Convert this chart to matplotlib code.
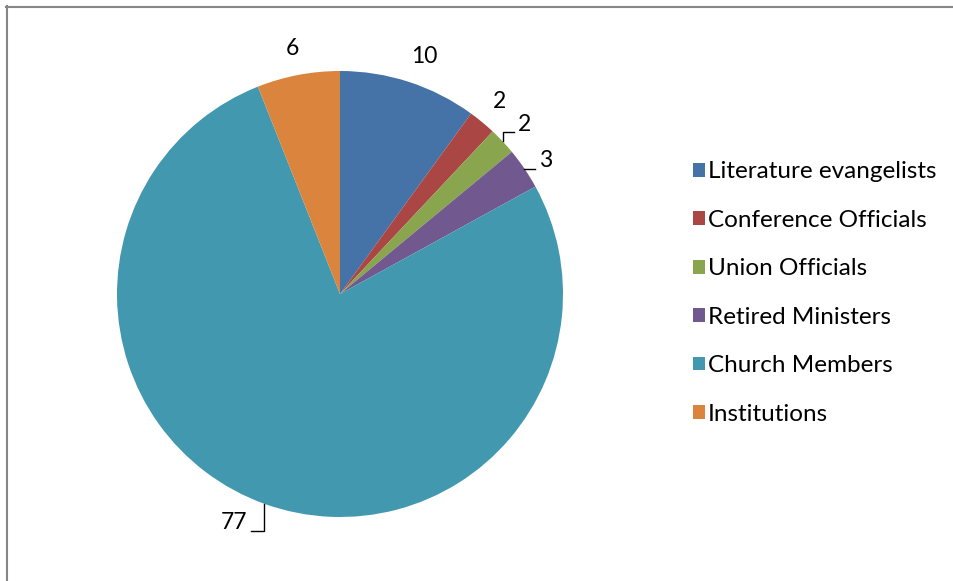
import numpy as np
import matplotlib
matplotlib.use("Agg")
import matplotlib.pyplot as plt
from matplotlib.lines import Line2D
from matplotlib.patches import Patch

plt.rcParams["font.family"] = ["Lato", "DejaVu Sans"]

categories = ["Literature evangelists", "Conference Officials", "Union Officials",
              "Retired Ministers", "Church Members", "Institutions"]
values = [10, 2, 2, 3, 77, 6]
colors = ["#4572A7", "#AA4643", "#89A54E", "#71588F", "#4198AF", "#DB843D"]

# how far out each number sits, and which ones get an elbow leader
label_dist = [1.13, 1.12, 1.125, 1.10, 1.13, 1.12]
label_shift = [-1.5, 0.0, -0.6, -1.3, -5.0, 0.2]   # degrees
leader = [False, False, True, True, True, False]

W, H = 954, 581
fig = plt.figure(figsize=(W / 100, H / 100), dpi=100)

cx, cy, r = 340, 294, 223
ax = fig.add_axes([(cx - r) / W, (H - cy - r) / H, 2 * r / W, 2 * r / H])

wedges, _ = ax.pie(values, colors=colors, startangle=90, counterclock=False,
                   radius=1, wedgeprops=dict(linewidth=0))
ax.set_xlim(-1, 1)
ax.set_ylim(-1, 1)
ax.axis("off")

fs = 16.5
px = 1 / r  # one pixel in data units
for w, val, d, sh, has_leader in zip(wedges, values, label_dist, label_shift, leader):
    mid = np.deg2rad((w.theta1 + w.theta2) / 2 + sh)
    true_mid = np.deg2rad((w.theta1 + w.theta2) / 2)
    lx, ly = d * np.cos(mid), d * np.sin(mid)
    ax.text(lx, ly, str(val), ha="center", va="center", fontsize=fs, clip_on=False)
    if has_leader:
        ex, ey = np.cos(true_mid), np.sin(true_mid)
        line_y = ly - 8 * px
        half = (len(str(val)) * 6 + 5) * px
        end_x = lx - half if lx > ex else lx + half
        ax.plot([ex, ex, end_x], [ey, line_y, line_y], color="black", lw=1,
                clip_on=False, solid_joinstyle="miter")

handles = [Patch(facecolor=c, edgecolor="none") for c in colors]
fig.legend(handles, categories, loc="center left", bbox_to_anchor=(693 / W, 1 - 293 / H),
           frameon=False, fontsize=17.5, handlelength=0.5, handleheight=0.5,
           handletextpad=0.12, labelspacing=1.13, borderpad=0, borderaxespad=0)

# chart area border (left and top edges)
fig.add_artist(Line2D([7 / W, 7 / W], [0, 1 - 6 / H], color="#868686", lw=1.5,
                      transform=fig.transFigure))
fig.add_artist(Line2D([6 / W, 1], [1 - 7 / H, 1 - 7 / H], color="#868686", lw=1.5,
                      transform=fig.transFigure))

fig.savefig("out.png", dpi=100)
